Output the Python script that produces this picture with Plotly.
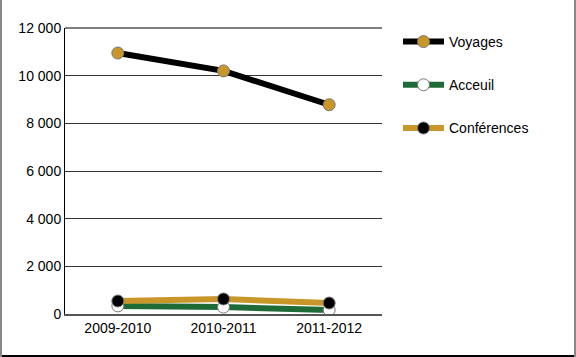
import plotly.graph_objects as go

categories = ["2009-2010", "2010-2011", "2011-2012"]
voyages = [10950, 10200, 8780]
acceuil = [340, 290, 170]
conferences = [545, 630, 460]
tick_vals = [0, 2000, 4000, 6000, 8000, 10000, 12000]
tick_text = ["0", "2 000", "4 000", "6 000", "8 000", "10 000", "12 000"]

fig = go.Figure()
series = [
    ("Voyages", voyages, "#000000", "#C9962A"),
    ("Acceuil", acceuil, "#1E6B37", "#FFFFFF"),
    ("Conférences", conferences, "#C9962A", "#000000"),
]
for i, (name, vals, lc, mc) in enumerate(series):
    fig.add_trace(go.Scatter(
        x=categories, y=vals, name=name, mode="lines+markers",
        legendgroup=f"g{i}",
        line=dict(color=lc, width=6),
        marker=dict(size=12, color=mc, line=dict(color="#777777", width=1)),
    ))

W, H = 576, 357
L, R, T, B = 65, 194, 28, 43
pw, ph = W - L - R, H - T - B

fig.update_layout(
    width=W, height=H,
    margin=dict(l=L, r=R, t=T, b=B),
    paper_bgcolor="white", plot_bgcolor="white",
    font=dict(family="Liberation Sans, Arial, sans-serif", size=14, color="#000"),
    showlegend=True,
    legend=dict(x=(398 - L) / pw, y=1 - (26 - T) / ph, xanchor="left", yanchor="top",
                tracegroupgap=22, itemwidth=41, font=dict(size=14),
                bgcolor="rgba(0,0,0,0)"),
    xaxis=dict(range=[-0.5, 2.5], showgrid=False, showline=True, linecolor="#555555",
               linewidth=2, ticks="", tickfont=dict(size=14)),
    yaxis=dict(range=[0, 12000], tickvals=tick_vals, ticktext=tick_text,
               showgrid=True, gridcolor="#333333", gridwidth=1, showline=True,
               linecolor="#000000", linewidth=1, zeroline=False, ticks="",
               tickfont=dict(size=14)),
    shapes=[
        dict(type="rect", xref="paper", yref="paper",
             x0=-(L - 1) / pw, x1=(W - L - 1) / pw, y0=-(B - 1) / ph, y1=(H - T - 1) / ph,
             line=dict(color="#888888", width=2), layer="below"),
        dict(type="line", xref="paper", yref="paper",
             x0=-(L - 2) / pw, x1=(W - L - 2) / pw, y0=-(B - 1) / ph, y1=-(B - 1) / ph,
             line=dict(color="#000000", width=2)),
        dict(type="line", xref="paper", yref="paper",
             x0=0, x1=1, y0=1, y1=1, line=dict(color="#000000", width=1)),
    ],
)
fig.write_html("out.html", config={"displayModeBar": False},
               post_script="document.body.style.margin='0';document.body.style.overflow='hidden';")
